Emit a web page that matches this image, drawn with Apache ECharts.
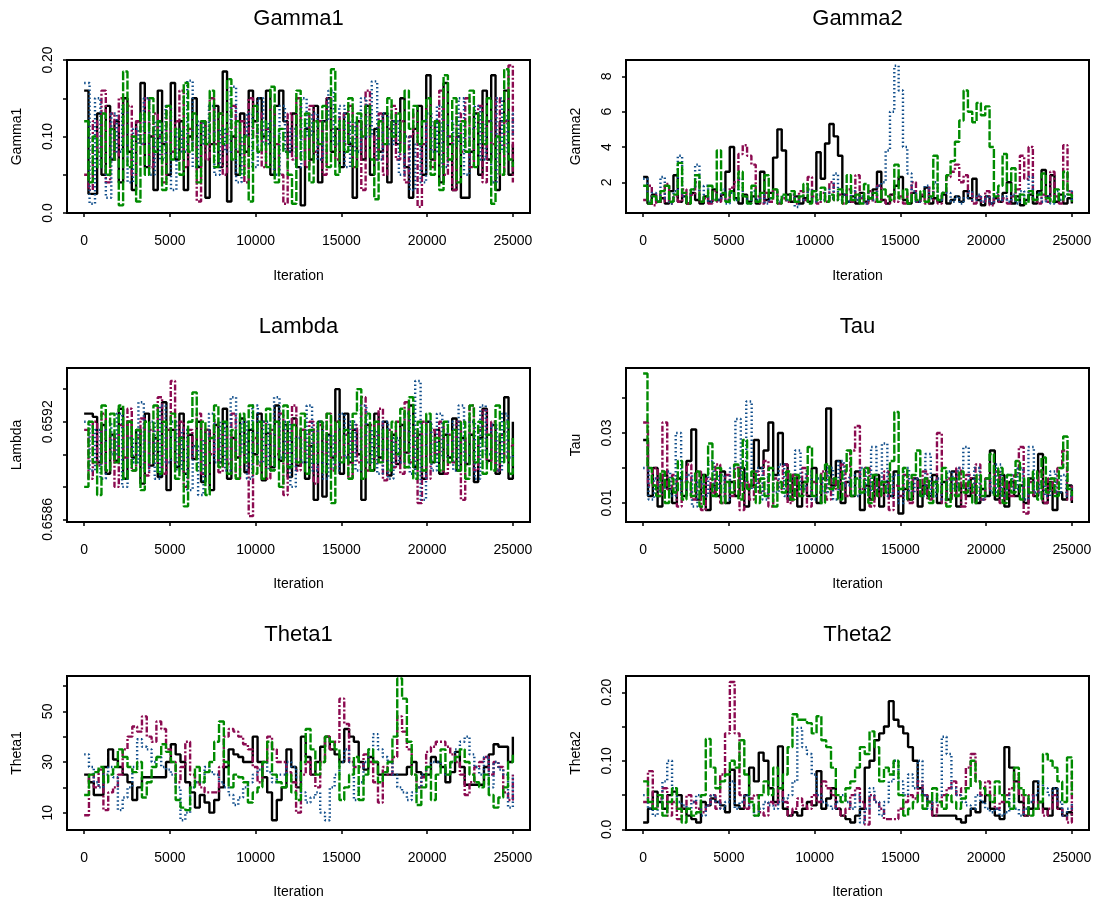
<!DOCTYPE html>
<html>
<head>
<meta charset="utf-8">
<script src="https://cdn.jsdelivr.net/npm/echarts@6/dist/echarts.min.js"></script>
<style>
  html, body { margin: 0; padding: 0; background: #fff; }
  #chart { width: 1096px; height: 903px; }
</style>
</head>
<body>
<div id="chart"></div>
<script>
// iterations run 0..25000, every chain sampled evenly over that range
const lastIter = 25000
const iterTicks = [0, 5000, 10000, 15000, 20000, 25000]

// Gamma1
const gamma1Chain1 = [0.16,0.025,0.025,0.13,0.05,0.14,0.07,0.12,0.04,0.15,0.08,0.03,0.12,0.17,0.06,0.1,0.03,0.16,0.09,0.05,0.17,0.07,0.12,0.03,0.1,0.15,0.06,0.12,0.02,0.09,0.14,0.06,0.185,0.015,0.1,0.05,0.13,0.08,0.16,0.12,0.15,0.1,0.16,0.05,0.14,0.16,0.12,0.08,0.13,0.06,0.01,0.11,0.07,0.14,0.04,0.12,0.15,0.08,0.11,0.06,0.13,0.09,0.02,0.12,0.07,0.14,0.05,0.11,0.08,0.13,0.04,0.12,0.09,0.15,0.06,0.02,0.11,0.14,0.05,0.18,0.07,0.12,0.04,0.17,0.09,0.03,0.1,0.02,0.02,0.08,0.13,0.05,0.16,0.07,0.18,0.03,0.12,0.16,0.05,0.09]
const gamma1Chain2 = [0.05,0.03,0.12,0.08,0.16,0.04,0.13,0.07,0.15,0.1,0.14,0.05,0.12,0.09,0.15,0.06,0.13,0.1,0.04,0.14,0.08,0.12,0.16,0.06,0.11,0.09,0.015,0.12,0.07,0.15,0.09,0.13,0.05,0.11,0.14,0.08,0.12,0.04,0.15,0.1,0.13,0.06,0.11,0.14,0.09,0.05,0.012,0.13,0.07,0.15,0.1,0.06,0.14,0.08,0.12,0.05,0.15,0.11,0.07,0.13,0.09,0.14,0.06,0.12,0.03,0.16,0.1,0.07,0.13,0.05,0.11,0.14,0.07,0.12,0.04,0.1,0.13,0.008,0.09,0.14,0.06,0.12,0.16,0.05,0.1,0.03,0.13,0.08,0.15,0.06,0.11,0.14,0.04,0.12,0.09,0.15,0.05,0.12,0.193,0.04]
const gamma1Chain3 = [0.17,0.012,0.15,0.06,0.02,0.13,0.08,0.14,0.04,0.11,0.09,0.15,0.05,0.12,0.07,0.14,0.03,0.11,0.08,0.173,0.06,0.12,0.09,0.14,0.05,0.11,0.08,0.165,0.04,0.1,0.13,0.06,0.15,0.09,0.12,0.05,0.14,0.08,0.11,0.06,0.15,0.1,0.13,0.07,0.12,0.16,0.09,0.14,0.06,0.12,0.08,0.15,0.1,0.172,0.07,0.13,0.09,0.12,0.05,0.1,0.03,0.09,0.04,0.13,0.08,0.14,0.06,0.12,0.09,0.15,0.05,0.11,0.14,0.07,0.12,0.04,0.15,0.08,0.13,0.1]
const gamma1Chain4 = [0.12,0.04,0.1,0.06,0.13,0.05,0.11,0.07,0.01,0.185,0.06,0.1,0.015,0.13,0.05,0.15,0.08,0.12,0.03,0.14,0.07,0.11,0.05,0.17,0.08,0.13,0.04,0.12,0.09,0.16,0.06,0.13,0.09,0.175,0.07,0.12,0.05,0.1,0.015,0.14,0.08,0.12,0.06,0.165,0.04,0.11,0.08,0.05,0.012,0.16,0.07,0.13,0.04,0.12,0.09,0.14,0.06,0.188,0.05,0.12,0.08,0.15,0.06,0.13,0.1,0.14,0.07,0.018,0.12,0.09,0.15,0.1,0.13,0.08,0.16,0.11,0.14,0.09,0.12,0.15,0.05,0.12,0.03,0.18,0.07,0.15,0.04,0.12,0.08,0.16,0.06,0.13,0.09,0.15,0.012,0.1,0.05,0.188,0.07,0.06]
const gamma1Ticks = [0, 0.05, 0.1, 0.15, 0.2]
const gamma1Labels = [0, 0.1, 0.2]
const gamma1LabelText = ['0.0', '0.10', '0.20']

// Gamma2
const gamma2Chain1 = [2.3,0.8,1.3,0.9,1.1,0.8,1.5,2.4,0.9,1.2,0.8,1.4,1.0,0.8,1.2,0.9,1.6,1.0,1.3,2.6,4.0,1.1,0.8,1.3,0.9,1.2,0.8,2.6,1.0,1.4,3.4,5.0,3.8,1.3,0.9,1.2,0.8,1.1,0.9,1.5,3.7,2.2,4.2,5.3,4.6,3.5,1.3,0.9,1.2,0.8,1.4,0.9,1.1,1.6,2.6,1.0,0.8,1.3,1.8,2.3,1.0,0.8,1.4,0.9,1.2,1.7,0.8,1.1,0.9,1.3,0.8,1.0,1.2,0.9,1.5,1.1,2.2,1.0,0.7,1.2,0.8,1.1,0.9,1.4,2.0,0.8,1.2,0.7,1.0,1.3,0.8,1.5,2.7,1.2,2.4,0.9,1.3,0.8,1.1,0.8]
const gamma2Chain2 = [1.0,1.8,0.7,1.3,0.9,1.9,0.8,1.2,0.9,1.6,0.8,1.3,2.0,0.9,1.1,0.8,1.5,0.9,1.3,1.0,1.7,2.0,3.6,4.1,3.5,3.0,1.2,0.8,1.4,0.9,1.6,0.8,1.1,0.9,1.3,0.8,1.5,1.0,2.3,1.2,0.8,1.4,0.9,2.0,1.0,1.3,0.8,1.6,0.9,2.4,1.1,0.8,1.5,0.9,1.8,1.0,0.8,1.3,0.9,1.2,0.8,1.4,2.0,0.9,1.3,0.8,1.7,1.0,0.8,1.4,2.3,2.6,3.0,2.0,2.4,1.4,0.8,1.2,0.9,1.5,0.7,1.3,0.9,1.1,0.8,1.2,1.6,3.5,2.2,4.0,1.0,0.8,1.3,0.9,2.6,1.2,0.8,4.1,1.5,1.0]
const gamma2Chain3 = [2.2,0.9,1.4,1.0,2.3,1.1,0.8,1.5,3.5,1.2,0.9,1.6,3.0,1.1,1.8,0.9,1.3,1.0,1.6,0.8,1.4,1.0,2.2,1.2,0.8,1.5,1.0,1.3,0.8,1.1,1.4,0.9,1.2,1.0,1.3,0.6,1.2,1.0,1.6,0.9,1.3,1.0,1.6,1.1,2.5,1.0,1.3,0.9,1.5,1.0,1.2,0.8,1.4,1.0,1.8,2.0,3.8,6.0,8.6,7.2,4.0,2.5,1.5,0.9,1.3,1.8,1.1,2.0,1.0,1.4,1.4,0.9,1.2,0.8,1.1,1.5,1.0,1.3,0.9,1.2,0.8,1.4,1.0,1.2,0.9,1.3,0.8,1.5,1.0,2.3,1.0,1.4,0.9,1.2,0.8,1.5,1.0,1.2,1.5,0.9]
const gamma2Chain4 = [1.8,0.8,1.2,0.9,1.5,1.8,0.9,1.3,3.1,1.4,0.8,1.6,2.4,0.9,1.2,1.8,1.0,3.8,1.4,0.9,1.5,1.0,2.6,1.2,0.8,1.8,0.9,1.4,2.4,1.1,1.6,0.8,1.3,1.0,1.5,0.9,1.2,1.9,0.8,1.5,1.0,1.7,0.9,1.3,1.0,1.6,0.8,2.4,1.0,1.3,0.8,1.9,1.1,1.4,0.9,1.6,1.2,1.0,3.0,1.1,1.6,0.8,1.3,1.0,1.5,0.9,1.2,3.5,1.0,1.4,2.4,3.2,4.3,5.5,7.2,6.0,5.4,6.5,5.8,6.3,4.0,1.2,1.8,3.6,1.5,2.8,1.0,1.3,0.8,1.5,1.0,1.3,2.5,1.1,0.9,1.6,1.0,2.6,1.3,0.9]
const gamma2Ticks = [2, 4, 6, 8]
const gamma2Labels = [2, 4, 6, 8]
const gamma2LabelText = ['2', '4', '6', '8']

// Lambda
const lambdaChain1 = [0.65925,0.65925,0.65923,0.65895,0.65918,0.65888,0.65912,0.65896,0.65928,0.65885,0.6592,0.65898,0.65915,0.65882,0.65925,0.65893,0.6591,0.65886,0.65932,0.65878,0.65915,0.65892,0.65925,0.65888,0.65912,0.65897,0.6592,0.65883,0.65915,0.65878,0.65918,0.65895,0.65928,0.65885,0.6591,0.65898,0.65922,0.65889,0.65915,0.659,0.65925,0.65884,0.65913,0.65892,0.6593,0.65896,0.65918,0.65886,0.65922,0.65893,0.65915,0.65885,0.65905,0.65872,0.6592,0.65874,0.65912,0.65898,0.6594,0.65888,0.65925,0.65895,0.65915,0.659,0.65872,0.65918,0.6589,0.65925,0.65898,0.6592,0.65887,0.65912,0.65894,0.65918,0.65901,0.6593,0.65892,0.65912,0.65885,0.6592,0.65895,0.65915,0.65888,0.65912,0.65898,0.65922,0.6589,0.6591,0.65894,0.65912,0.65883,0.6591,0.65928,0.65896,0.65918,0.65888,0.65912,0.65935,0.65885,0.6592]
const lambdaChain2 = [0.65915,0.65885,0.6592,0.65893,0.65925,0.6589,0.65912,0.6588,0.65918,0.65898,0.65928,0.6589,0.6591,0.65922,0.65887,0.65915,0.65895,0.65935,0.65888,0.65915,0.65945,0.65895,0.6592,0.6588,0.65915,0.65898,0.65925,0.65888,0.65915,0.659,0.6592,0.65889,0.65916,0.65894,0.65925,0.65885,0.6591,0.65895,0.65862,0.6591,0.65893,0.6592,0.65885,0.65915,0.659,0.65925,0.65875,0.6591,0.6593,0.6589,0.65915,0.65898,0.6592,0.65882,0.65918,0.659,0.65925,0.6589,0.6592,0.65898,0.65912,0.65885,0.65918,0.65895,0.65935,0.6589,0.65918,0.65895,0.65928,0.65884,0.65915,0.65892,0.6592,0.65888,0.65932,0.65895,0.65915,0.6587,0.6592,0.65885,0.65915,0.659,0.6592,0.65888,0.65912,0.65895,0.6592,0.65872,0.6591,0.6593,0.6589,0.65915,0.65927,0.65895,0.6592,0.6589,0.65912,0.65898,0.65905,0.6591]
const lambdaChain3 = [0.6592,0.6589,0.65915,0.65885,0.6592,0.659,0.65925,0.6588,0.6591,0.65895,0.65932,0.6589,0.6592,0.65885,0.6593,0.65895,0.6592,0.6589,0.65915,0.65878,0.65905,0.65875,0.6591,0.65925,0.65895,0.6592,0.6589,0.65935,0.659,0.6592,0.65885,0.6593,0.65895,0.6592,0.6589,0.65935,0.65898,0.6592,0.6588,0.6591,0.65895,0.6593,0.6589,0.6592,0.65885,0.65912,0.6589,0.65925,0.65898,0.6592,0.6589,0.6593,0.65895,0.65915,0.65888,0.6592,0.65885,0.6591,0.65895,0.65925,0.65888,0.65945,0.65872,0.6592,0.6589,0.65925,0.65898,0.6592,0.6589,0.6593,0.65895,0.6592,0.65885,0.6593,0.659,0.65918,0.6589,0.65925,0.65898,0.65905]
const lambdaChain4 = [0.6588,0.6592,0.65895,0.65875,0.6593,0.6589,0.65925,0.65895,0.6593,0.65885,0.6592,0.6589,0.65915,0.65878,0.6592,0.65895,0.6593,0.65888,0.6592,0.65898,0.65925,0.65885,0.6591,0.65868,0.6592,0.65938,0.6589,0.6592,0.65875,0.6591,0.6593,0.65892,0.6592,0.65888,0.65915,0.65885,0.65925,0.65895,0.6593,0.65888,0.6592,0.65885,0.65928,0.6589,0.6592,0.6588,0.6593,0.65892,0.65918,0.65895,0.65925,0.65888,0.65915,0.65895,0.6592,0.65889,0.65925,0.6587,0.6592,0.65895,0.65915,0.65885,0.65925,0.6594,0.65885,0.65925,0.6589,0.6592,0.65895,0.65915,0.6589,0.6592,0.659,0.65928,0.65892,0.65935,0.65885,0.6592,0.6589,0.65925,0.65895,0.6591,0.6589,0.6592,0.65895,0.65915,0.6589,0.6592,0.65885,0.6593,0.65895,0.6592,0.65888,0.65912,0.6589,0.6593,0.65895,0.6592,0.65888,0.6591]
const lambdaTicks = [0.6586, 0.6588, 0.659, 0.6592, 0.6594]
const lambdaLabels = [0.6586, 0.6592]
const lambdaLabelText = ['0.6586', '0.6592']

// Tau
const tauChain1 = [0.028,0.012,0.02,0.009,0.018,0.014,0.01,0.017,0.012,0.022,0.031,0.011,0.018,0.008,0.015,0.012,0.019,0.01,0.016,0.012,0.02,0.009,0.015,0.028,0.02,0.025,0.033,0.018,0.03,0.021,0.011,0.018,0.009,0.016,0.012,0.02,0.01,0.017,0.037,0.015,0.022,0.01,0.016,0.012,0.019,0.008,0.015,0.011,0.018,0.009,0.016,0.012,0.019,0.007,0.014,0.011,0.017,0.009,0.015,0.012,0.018,0.01,0.016,0.011,0.019,0.009,0.015,0.012,0.017,0.01,0.014,0.012,0.025,0.011,0.018,0.009,0.016,0.012,0.015,0.01,0.017,0.012,0.024,0.01,0.016,0.008,0.013,0.011,0.015,0.01]
const tauChain2 = [0.033,0.015,0.02,0.012,0.033,0.014,0.018,0.009,0.016,0.021,0.011,0.019,0.008,0.017,0.013,0.021,0.01,0.018,0.012,0.02,0.008,0.016,0.011,0.019,0.013,0.022,0.009,0.017,0.014,0.021,0.01,0.018,0.012,0.02,0.009,0.016,0.013,0.019,0.011,0.017,0.014,0.021,0.012,0.025,0.032,0.014,0.02,0.009,0.016,0.012,0.019,0.008,0.015,0.012,0.018,0.01,0.017,0.013,0.019,0.011,0.016,0.03,0.01,0.017,0.012,0.02,0.009,0.018,0.013,0.021,0.011,0.017,0.014,0.019,0.01,0.016,0.012,0.018,0.026,0.007,0.016,0.012,0.019,0.01,0.017,0.013,0.02,0.025,0.011,0.015]
const tauChain3 = [0.02,0.011,0.017,0.013,0.019,0.012,0.03,0.012,0.018,0.009,0.016,0.012,0.022,0.014,0.018,0.011,0.02,0.034,0.015,0.039,0.014,0.02,0.011,0.018,0.013,0.021,0.012,0.017,0.025,0.014,0.019,0.011,0.017,0.013,0.02,0.011,0.022,0.015,0.018,0.012,0.02,0.013,0.026,0.014,0.027,0.012,0.018,0.01,0.02,0.013,0.017,0.012,0.024,0.012,0.017,0.011,0.019,0.014,0.02,0.026,0.014,0.02,0.011,0.017,0.013,0.021,0.012,0.018,0.014,0.02,0.011,0.026,0.013,0.016,0.012,0.019,0.013,0.018,0.012,0.015]
const tauChain4 = [0.047,0.02,0.015,0.012,0.019,0.01,0.017,0.013,0.022,0.011,0.016,0.012,0.019,0.009,0.018,0.027,0.012,0.02,0.01,0.016,0.013,0.021,0.011,0.028,0.014,0.019,0.01,0.017,0.012,0.02,0.009,0.016,0.013,0.019,0.011,0.018,0.012,0.016,0.026,0.012,0.018,0.01,0.021,0.014,0.017,0.011,0.019,0.025,0.012,0.017,0.013,0.02,0.01,0.018,0.012,0.016,0.013,0.022,0.036,0.014,0.02,0.011,0.018,0.025,0.012,0.017,0.01,0.016,0.013,0.02,0.009,0.017,0.012,0.019,0.013,0.016,0.01,0.018,0.012,0.017,0.024,0.012,0.02,0.01,0.018,0.013,0.022,0.011,0.017,0.013,0.019,0.011,0.023,0.013,0.017,0.012,0.02,0.029,0.014,0.012]
const tauTicks = [0.01, 0.02, 0.03, 0.04]
const tauLabels = [0.01, 0.03]
const tauLabelText = ['0.01', '0.03']

// Theta1
const theta1Chain1 = [25,22,17,17,28,35,31,28,25,22,15,20,24,24,24,24,24,30,37,33,30,22,18,12,17,14,10,15,20,28,35,33,32,30,30,40,30,24,18,7,15,20,35,28,20,40,32,25,30,36,40,35,33,30,43,40,38,30,27,32,30,25,25,25,25,25,25,28,30,26,25,25,32,30,28,22,26,34,28,21,21,21,21,28,33,37,36,36,30,40]
const theta1Chain2 = [9,25,20,27,11,18,20,25,35,40,44,42,48,40,38,46,43,35,30,22,28,38,25,22,20,18,18,18,28,40,43,42,40,37,35,28,22,30,40,35,30,30,26,22,10,25,30,25,20,30,40,35,38,55,45,30,28,28,33,30,22,14,28,25,32,48,42,35,25,20,24,34,36,38,38,36,33,30,25,17,22,28,30,32,25,30,28,18,15,25]
const theta1Chain3 = [33,28,22,20,25,28,24,11,16,20,28,39,36,35,30,32,28,27,25,20,7,10,20,22,22,28,26,25,22,20,17,13,16,20,22,25,27,30,26,22,25,25,30,28,24,18,14,16,18,10,7,20,25,30,35,30,15,22,30,35,41,35,32,30,25,20,18,15,18,20,25,28,30,30,28,25,30,35,38,40,33,28,25,32,20,30,27,25,12,25]
const theta1Chain4 = [17,25,26,28,22,25,28,35,32,28,26,30,16,22,28,32,37,34,30,15,12,11,20,28,22,26,30,38,46,30,20,25,24,22,14,18,20,30,38,25,22,20,25,18,15,30,43,35,25,30,40,38,35,15,20,25,32,15,25,35,30,22,26,30,40,63,55,38,25,13,20,28,15,25,35,25,30,32,35,30,25,22,20,25,17,12,16,20,30,33]
const theta1Ticks = [10, 20, 30, 40, 50, 60]
const theta1Labels = [10, 30, 50]
const theta1LabelText = ['10', '30', '50']

// Theta2
const theta2Chain1 = [0.01,0.03,0.055,0.04,0.03,0.05,0.055,0.05,0.03,0.02,0.015,0.01,0.04,0.035,0.045,0.04,0.035,0.025,0.087,0.035,0.03,0.05,0.09,0.07,0.112,0.1,0.06,0.04,0.121,0.03,0.02,0.025,0.02,0.03,0.04,0.035,0.085,0.03,0.045,0.06,0.03,0.02,0.015,0.01,0.02,0.03,0.09,0.1,0.13,0.14,0.15,0.187,0.16,0.15,0.14,0.12,0.1,0.06,0.05,0.04,0.02,0.02,0.02,0.02,0.02,0.015,0.01,0.02,0.03,0.025,0.04,0.05,0.03,0.02,0.015,0.12,0.09,0.07,0.04,0.02,0.03,0.07,0.04,0.03,0.02,0.06,0.03,0.02,0.025,0.02]
const theta2Chain2 = [0.04,0.085,0.03,0.045,0.06,0.02,0.04,0.015,0.03,0.05,0.04,0.03,0.025,0.035,0.05,0.03,0.08,0.14,0.215,0.14,0.05,0.03,0.045,0.05,0.025,0.02,0.04,0.035,0.06,0.04,0.02,0.03,0.045,0.035,0.03,0.05,0.04,0.07,0.06,0.05,0.03,0.02,0.03,0.05,0.06,0.04,0.007,0.05,0.04,0.03,0.015,0.015,0.015,0.03,0.04,0.05,0.045,0.07,0.05,0.04,0.02,0.035,0.05,0.06,0.07,0.05,0.06,0.09,0.11,0.07,0.05,0.07,0.05,0.03,0.04,0.05,0.06,0.08,0.05,0.02,0.05,0.04,0.03,0.02,0.03,0.05,0.03,0.02,0.01,0.085]
const theta2Chain3 = [0.05,0.03,0.02,0.04,0.07,0.1,0.06,0.04,0.035,0.03,0.04,0.05,0.02,0.035,0.05,0.04,0.03,0.04,0.07,0.03,0.04,0.05,0.035,0.02,0.03,0.04,0.035,0.03,0.04,0.045,0.05,0.07,0.148,0.12,0.11,0.08,0.05,0.04,0.035,0.03,0.04,0.05,0.04,0.03,0.05,0.01,0.03,0.06,0.04,0.02,0.04,0.07,0.1,0.07,0.05,0.08,0.06,0.1,0.05,0.03,0.04,0.05,0.135,0.11,0.06,0.05,0.04,0.035,0.03,0.05,0.04,0.03,0.025,0.03,0.02,0.025,0.05,0.03,0.02,0.03,0.04,0.05,0.07,0.06,0.05,0.06,0.04,0.02,0.03,0.04]
const theta2Chain4 = [0.07,0.04,0.03,0.05,0.02,0.04,0.06,0.03,0.01,0.03,0.02,0.025,0.05,0.132,0.09,0.06,0.07,0.08,0.1,0.09,0.13,0.08,0.04,0.02,0.05,0.07,0.05,0.09,0.06,0.08,0.12,0.168,0.16,0.16,0.155,0.14,0.165,0.13,0.12,0.09,0.05,0.04,0.06,0.07,0.09,0.12,0.11,0.143,0.12,0.07,0.09,0.08,0.1,0.05,0.02,0.03,0.04,0.05,0.03,0.04,0.06,0.04,0.03,0.05,0.04,0.03,0.045,0.06,0.1,0.07,0.06,0.05,0.04,0.07,0.05,0.04,0.03,0.09,0.06,0.05,0.02,0.03,0.04,0.11,0.1,0.09,0.07,0.04,0.105,0.05]
const theta2Ticks = [0, 0.05, 0.1, 0.15, 0.2]
const theta2Labels = [0, 0.1, 0.2]
const theta2LabelText = ['0.0', '0.10', '0.20']

const chainColors = ['#000000', '#8B0A50', '#104E8B', '#008B00']
const chainDash = ['solid', [6, 2, 2, 2], [1.5, 2.5], [9, 2]]
const font = 'Liberation Sans, Arial, Helvetica, sans-serif'

// layout of the 3x2 grid of plot boxes
const colLeft = [67, 626]
const rowTop = [60, 368, 676]
const boxWidth = 463
const boxHeight = [153, 154, 154]

const panels = [
  { name: 'Gamma1', chains: [gamma1Chain1, gamma1Chain2, gamma1Chain3, gamma1Chain4], min: 0, max: 0.2, ticks: gamma1Ticks, labels: gamma1Labels, text: gamma1LabelText },
  { name: 'Gamma2', chains: [gamma2Chain1, gamma2Chain2, gamma2Chain3, gamma2Chain4], min: 0.26, max: 8.93, ticks: gamma2Ticks, labels: gamma2Labels, text: gamma2LabelText },
  { name: 'Lambda', chains: [lambdaChain1, lambdaChain2, lambdaChain3, lambdaChain4], min: 0.658584, max: 0.65953, ticks: lambdaTicks, labels: lambdaLabels, text: lambdaLabelText },
  { name: 'Tau', chains: [tauChain1, tauChain2, tauChain3, tauChain4], min: 0.00457, max: 0.04857, ticks: tauTicks, labels: tauLabels, text: tauLabelText },
  { name: 'Theta1', chains: [theta1Chain1, theta1Chain2, theta1Chain3, theta1Chain4], min: 3.16, max: 63.95, ticks: theta1Ticks, labels: theta1Labels, text: theta1LabelText },
  { name: 'Theta2', chains: [theta2Chain1, theta2Chain2, theta2Chain3, theta2Chain4], min: -0.0009, max: 0.2237, ticks: theta2Ticks, labels: theta2Labels, text: theta2LabelText }
]

const grid = []
const xAxis = []
const yAxis = []
const series = []
const graphic = []

panels.forEach((p, k) => {
  const col = k % 2
  const row = Math.floor(k / 2)
  const left = colLeft[col]
  const top = rowTop[row]
  const h = boxHeight[row]

  grid.push({
    left, top, width: boxWidth, height: h,
    show: true, borderColor: '#000', borderWidth: 2, backgroundColor: 'transparent'
  })

  xAxis.push({
    type: 'value', gridIndex: k, min: -1000, max: 26000,
    axisLine: { show: false, onZero: false },
    splitLine: { show: false },
    axisTick: { show: true, customValues: iterTicks, length: 4, lineStyle: { color: '#000', width: 1.5 } },
    axisLabel: { customValues: iterTicks, margin: 21, color: '#000', fontSize: 14, fontFamily: font, formatter: v => String(v) }
  })

  yAxis.push({
    type: 'value', gridIndex: k, min: p.min, max: p.max,
    axisLine: { show: false, onZero: false },
    splitLine: { show: false },
    axisTick: { show: true, customValues: p.ticks, length: 4, lineStyle: { color: '#000', width: 1.5 } },
    axisLabel: {
      customValues: p.labels, rotate: 90, margin: 12, color: '#000', fontSize: 14, fontFamily: font,
      formatter: v => {
        const i = p.labels.findIndex(l => Math.abs(l - v) < 1e-9)
        return i >= 0 ? p.text[i] : ''
      }
    }
  })

  p.chains.forEach((chain, c) => {
    series.push({
      type: 'line', xAxisIndex: k, yAxisIndex: k,
      data: chain.map((v, i) => [i * lastIter / (chain.length - 1), v]),
      step: 'end', showSymbol: false, symbol: 'none', clip: true,
      lineStyle: { color: chainColors[c], width: 2.4, type: chainDash[c] },
      z: 2 + c
    })
  })

  const cx = left + boxWidth / 2
  graphic.push({
    type: 'text', x: cx, y: top - 41,
    style: { text: p.name, align: 'center', verticalAlign: 'middle', fontSize: 22, fontFamily: font, fill: '#000' }
  })
  graphic.push({
    type: 'text', x: cx, y: top + 216,
    style: { text: 'Iteration', align: 'center', verticalAlign: 'middle', fontSize: 14, fontFamily: font, fill: '#000' }
  })
  graphic.push({
    type: 'text', x: left - 50, y: top + h / 2, rotation: Math.PI / 2,
    style: { text: p.name, align: 'center', verticalAlign: 'middle', fontSize: 14, fontFamily: font, fill: '#000' }
  })
})

const chart = echarts.init(document.getElementById('chart'))
chart.setOption({
  animation: false,
  backgroundColor: '#fff',
  grid, xAxis, yAxis, series, graphic
})
</script>
</body>
</html>
